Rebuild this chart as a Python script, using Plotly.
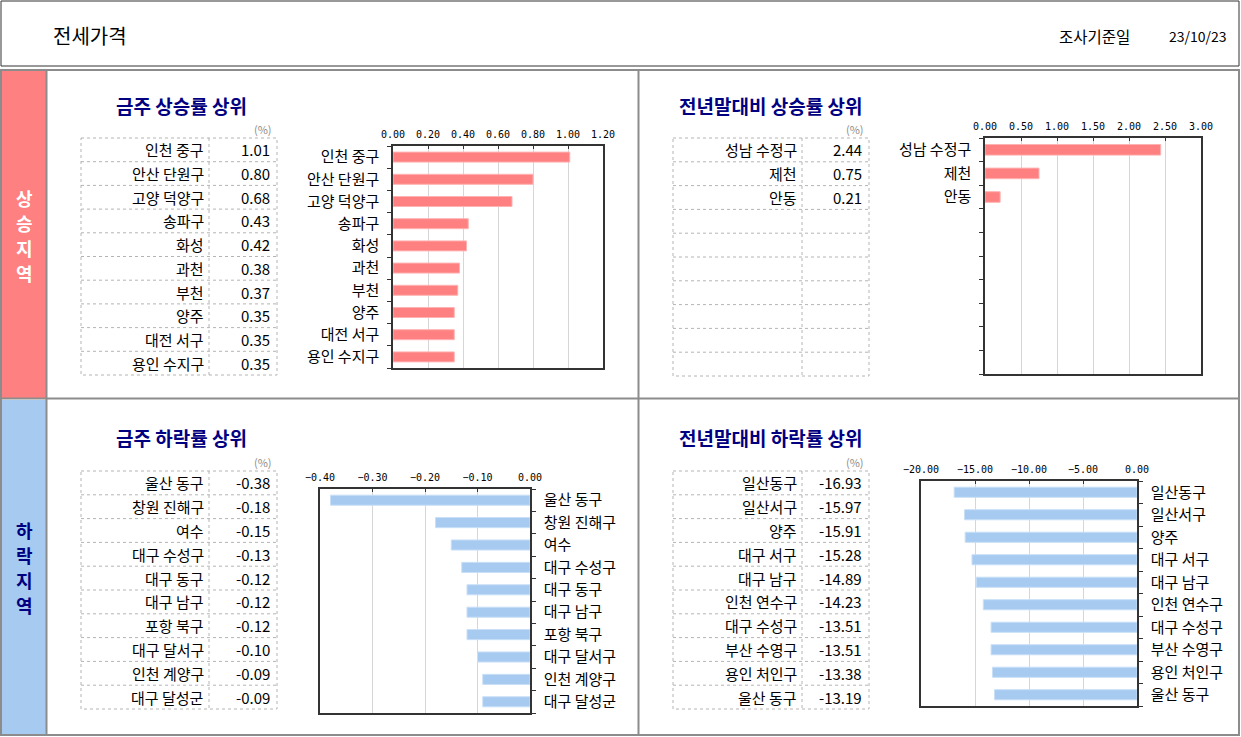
import plotly.graph_objects as go

# ---------------- data ----------------
tl_labels = ["인천 중구", "안산 단원구", "고양 덕양구", "송파구", "화성", "과천", "부천", "양주", "대전 서구", "용인 수지구"]
tl_values = [1.01, 0.80, 0.68, 0.43, 0.42, 0.38, 0.37, 0.35, 0.35, 0.35]

tr_labels = ["성남 수정구", "제천", "안동"]
tr_values = [2.44, 0.75, 0.21]

bl_labels = ["울산 동구", "창원 진해구", "여수", "대구 수성구", "대구 동구", "대구 남구", "포항 북구", "대구 달서구", "인천 계양구", "대구 달성군"]
bl_values = [-0.38, -0.18, -0.15, -0.13, -0.12, -0.12, -0.12, -0.10, -0.09, -0.09]

br_labels = ["일산동구", "일산서구", "양주", "대구 서구", "대구 남구", "인천 연수구", "대구 수성구", "부산 수영구", "용인 처인구", "울산 동구"]
br_values = [-16.93, -15.97, -15.91, -15.28, -14.89, -14.23, -13.51, -13.51, -13.38, -13.19]

panel_titles = ["금주 상승률 상위", "전년말대비 상승률 상위", "금주 하락률 상위", "전년말대비 하락률 상위"]
band_titles = ["상승지역", "하락지역"]
header_title = "전세가격"
date_label = "조사기준일"
date_value = "23/10/23"
unit_label = "(%)"
N_ROWS = 10

# ---------------- style ----------------
W, H = 1241, 737
def X(p):
    return p / W
def Y(p):
    return 1 - p / H

PINK = "#FF8080"
PINK_EDGE = "#FFB3B3"
BLUE = "#A6CAF0"
BLUE_EDGE = "#C9DFF7"
NAVY = "#000080"
GRAY = "#8C8C8C"
KR = "Noto Sans CJK KR"
MONO = "DejaVu Sans Mono"

panels = [
    dict(labels=tl_labels, values=tl_values, color=PINK, edge=PINK_EDGE,
         plot=(393, 603, 146, 368), rng=[0, 1.2], dtick=0.2, side="left",
         table=(81, 209, 277, 138, 375), title_pos=(114, 105), pct_y=129),
    dict(labels=tr_labels, values=tr_values, color=PINK, edge=PINK_EDGE,
         plot=(985, 1201, 138, 374), rng=[0, 3.0], dtick=0.5, side="left",
         table=(673, 802, 869, 138, 376), title_pos=(677, 105), pct_y=129),
    dict(labels=bl_labels, values=bl_values, color=BLUE, edge=BLUE_EDGE,
         plot=(320, 530, 489, 713), rng=[-0.4, 0], dtick=0.1, side="right",
         table=(81, 209, 277, 471, 709), title_pos=(114, 437), pct_y=462),
    dict(labels=br_labels, values=br_values, color=BLUE, edge=BLUE_EDGE,
         plot=(921, 1137, 481, 706), rng=[-20, 0], dtick=5, side="right",
         table=(673, 802, 869, 471, 709), title_pos=(677, 437), pct_y=462),
]

fig = go.Figure()
shapes = []
annotations = []
layout_axes = {}

for i, p in enumerate(panels, start=1):
    xs = "x" if i == 1 else f"x{i}"
    ys = "y" if i == 1 else f"y{i}"
    xname = "xaxis" if i == 1 else f"xaxis{i}"
    yname = "yaxis" if i == 1 else f"yaxis{i}"
    n = len(p["labels"])
    idx = list(range(n))
    fig.add_trace(go.Bar(
        x=p["values"], y=idx, orientation="h", xaxis=xs, yaxis=ys,
        width=0.45, marker=dict(color=p["color"], line=dict(color=p["edge"], width=1)),
        hoverinfo="skip", showlegend=False,
    ))
    x0, x1, y0, y1 = p["plot"]
    layout_axes[xname] = dict(
        domain=[X(x0), X(x1)], anchor=ys, side="top", range=p["rng"], automargin=False,
        dtick=p["dtick"], tick0=p["rng"][0], tickformat=".2f",
        showgrid=True, gridcolor="#D6D6D6", gridwidth=1, zeroline=False,
        showline=True, mirror=True, linecolor="#333333", linewidth=1.5,
        ticks="inside", ticklen=3, tickcolor="#333333",
        tickfont=dict(family=MONO, size=10, color="#000000"),
        ticklabelstandoff=2,
        fixedrange=True,
    )
    layout_axes[yname] = dict(
        domain=[Y(y1), Y(y0)], anchor=xs, side=p["side"], automargin=False,
        range=[N_ROWS - 0.5, -0.5], tickmode="array", tickvals=idx, ticktext=p["labels"],
        ticks="", showgrid=False, zeroline=False,
        showline=True, mirror=True, linecolor="#333333", linewidth=1.5,
        tickfont=dict(family=KR, size=15, color="#000000"),
        ticklabelstandoff=9,
        minor=dict(tickmode="array", tickvals=[k - 0.5 for k in range(N_ROWS + 1)],
                   ticks="outside", ticklen=4, tickcolor="#333333", showgrid=False),
        fixedrange=True,
    )

    # title
    tx, ty = p["title_pos"]
    annotations.append(dict(x=X(tx), y=Y(ty), xref="paper", yref="paper", xanchor="left",
                            yanchor="middle", showarrow=False, text=f"<b>{panel_titles[i-1]}</b>",
                            font=dict(family=KR, size=19, color=NAVY)))
    # table
    tl, td, tr, tt, tb = p["table"]
    rh = (tb - tt) / N_ROWS
    annotations.append(dict(x=X(tr - 3), y=Y(p["pct_y"]), xref="paper", yref="paper", xanchor="right",
                            yanchor="middle", showarrow=False, text=unit_label,
                            font=dict(family=KR, size=11, color="#8C8C8C")))
    dot = dict(color="#B4B4B4", width=1, dash="dot")
    shapes.append(dict(type="rect", xref="paper", yref="paper", x0=X(tl), x1=X(tr), y0=Y(tt), y1=Y(tb), line=dot))
    shapes.append(dict(type="line", xref="paper", yref="paper", x0=X(td), x1=X(td), y0=Y(tt), y1=Y(tb), line=dot))
    for r in range(1, N_ROWS):
        yy = tt + r * rh
        shapes.append(dict(type="line", xref="paper", yref="paper", x0=X(tl), x1=X(tr), y0=Y(yy), y1=Y(yy), line=dot))
    for r, (lab, val) in enumerate(zip(p["labels"], p["values"])):
        yc = tt + (r + 0.5) * rh
        annotations.append(dict(x=X(td - 3), y=Y(yc), xref="paper", yref="paper", xanchor="right",
                                yanchor="middle", showarrow=False, text=lab,
                                font=dict(family=KR, size=15, color="#000000")))
        annotations.append(dict(x=X(tr - 5), y=Y(yc), xref="paper", yref="paper", xanchor="right",
                                yanchor="middle", showarrow=False, text=f"{val:.2f}",
                                font=dict(family=KR, size=15, color="#000000")))

# bands
shapes.append(dict(type="rect", xref="paper", yref="paper", x0=X(1), x1=X(46), y0=Y(70), y1=Y(398),
                   fillcolor=PINK, line=dict(width=0), layer="below"))
shapes.append(dict(type="rect", xref="paper", yref="paper", x0=X(1), x1=X(46), y0=Y(400), y1=Y(735),
                   fillcolor=BLUE, line=dict(width=0), layer="below"))
band_layout = [(198, "#FFFFFF"), (530, NAVY)]
for title, (ystart, col) in zip(band_titles, band_layout):
    for k, ch in enumerate(title):
        annotations.append(dict(x=X(24), y=Y(ystart + k * 25), xref="paper", yref="paper",
                                xanchor="center", yanchor="middle", showarrow=False, borderpad=0,
                                text=f"<b>{ch}</b>", font=dict(family=KR, size=18, color=col)))

# borders
g = dict(color=GRAY, width=2)
shapes.append(dict(type="rect", xref="paper", yref="paper", x0=X(1), x1=X(1239), y0=Y(1), y1=Y(66),
                   line=dict(color="#333333", width=1)))
shapes.append(dict(type="rect", xref="paper", yref="paper", x0=X(1), x1=X(1239), y0=Y(70), y1=Y(735), line=g))
shapes.append(dict(type="line", xref="paper", yref="paper", x0=X(46.5), x1=X(46.5), y0=Y(70), y1=Y(735), line=g))
shapes.append(dict(type="line", xref="paper", yref="paper", x0=X(638.5), x1=X(638.5), y0=Y(70), y1=Y(735), line=g))
shapes.append(dict(type="line", xref="paper", yref="paper", x0=X(1), x1=X(1239), y0=Y(398.5), y1=Y(398.5), line=g))

# header
annotations.append(dict(x=X(51), y=Y(35), xref="paper", yref="paper", xanchor="left", yanchor="middle",
                        showarrow=False, text=header_title, font=dict(family=KR, size=20, color="#000000")))
annotations.append(dict(x=X(1057), y=Y(36), xref="paper", yref="paper", xanchor="left", yanchor="middle",
                        showarrow=False, text=date_label, font=dict(family=KR, size=15.5, color="#000000")))
annotations.append(dict(x=X(1229), y=Y(36), xref="paper", yref="paper", xanchor="right", yanchor="middle",
                        showarrow=False, text=date_value, font=dict(family=KR, size=14, color="#000000")))

fig.update_layout(
    width=W, height=H, margin=dict(l=0, r=0, t=0, b=0, autoexpand=False),
    paper_bgcolor="#FFFFFF", plot_bgcolor="#FFFFFF",
    shapes=shapes, annotations=annotations, bargap=0.5,
    **layout_axes,
)

fig.write_html("out.html", config={"displayModeBar": False},
               post_script="document.body.style.margin='0';document.body.style.overflow='hidden';")
